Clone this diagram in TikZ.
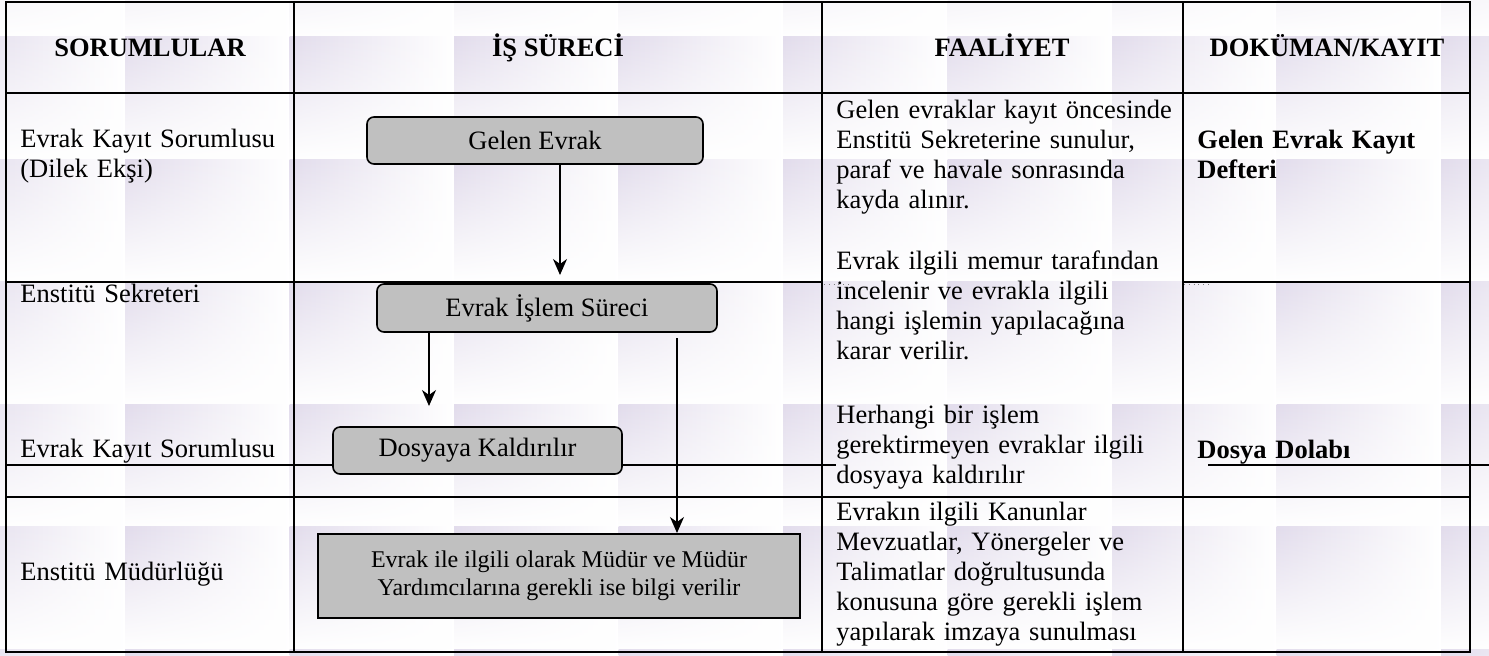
\documentclass[tikz,border=0pt]{standalone}
\usepackage{fontspec}
\setmainfont{Liberation Serif}
\usetikzlibrary{arrows.meta,fadings}
\definecolor{tilelav}{RGB}{226,220,236}
\definecolor{boxgray}{RGB}{192,192,192}
\newcommand\bodysize{\fontsize{13.25}{15}\selectfont}
\tikzfading[name=tilefade, top color=transparent!0, middle color=transparent!60, bottom color=transparent!100]
\begin{document}
\begin{tikzpicture}[x=0.5pt, y=-0.5pt, font=\bodysize,
    grid/.style={line width=1pt},
    txt/.style={anchor=base west, inner sep=0pt, align=left, text width=170pt},
    bold/.style={font=\bodysize\bfseries},
    head/.style={anchor=base, inner sep=0pt, bold},
    procbox/.style={draw, fill=boxgray, rounded corners=3.5pt, line width=0.8pt, inner sep=0pt},
    flow/.style={line width=0.75pt, -{Stealth[length=8pt,width=7pt,inset=2.5pt]}}]
  \useasboundingbox (0,0) rectangle (1489,655);
  \fill[white] (0,0) rectangle (1489,655);
  \foreach \i in {0,...,9}
    \foreach \j in {0,...,6}
      \shade[left color=tilelav, middle color=tilelav!70, right color=white, path fading=tilefade]
        ({-39.5+164.5*\i},{-85.5+122.5*\j}) rectangle ++(164.5,122.5);

  \draw[grid] (6,2) rectangle (1470,652);
  \foreach \x in {294,822,1183}
    \draw[grid] (\x,2) -- (\x,652);
  \draw[grid] (6,93) -- (1470,93);
  \draw[grid] (6,282) -- (822,282) (1183,282) -- (1470,282);
  \draw[grid] (6,497) -- (1470,497);
  \draw[line width=0.8pt] (6,465) -- (836,465) (1208,465) -- (1489,465);
  \draw[gray, dotted] (824,284) -- (850,284) (1184,284) -- (1210,284);

  \node[head] (hsor) at (150,56) {SORUMLULAR};
  \node[head] (his) at (558,56) {İŞ SÜRECİ};
  \node[head] (hfaal) at (1002,56) {FAALİYET};
  \node[head] (hdok) at (1327,56) {DOKÜMAN/KAYIT};

  \node[txt] (sor1) at (20,147) {Evrak Kayıt Sorumlusu\\(Dilek Ekşi)};
  \node[txt] (sor2) at (20,302) {Enstitü Sekreteri};
  \node[txt] (sor3) at (20,457) {Evrak Kayıt Sorumlusu};
  \node[txt] (sor4) at (20,580) {Enstitü Müdürlüğü};

  \node[txt] (faal1) at (836,118) {Gelen evraklar kayıt öncesinde\\Enstitü Sekreterine sunulur,\\paraf ve havale sonrasında\\kayda alınır.};
  \node[txt] (faal2) at (836,269) {Evrak ilgili memur tarafından\\incelenir ve evrakla ilgili\\hangi işlemin yapılacağına\\karar verilir.};
  \node[txt] (faal3) at (836,423) {Herhangi bir işlem\\gerektirmeyen evraklar ilgili\\dosyaya kaldırılır};
  \node[txt] (faal4) at (836,520) {Evrakın ilgili Kanunlar\\Mevzuatlar, Yönergeler ve\\Talimatlar doğrultusunda\\konusuna göre gerekli işlem\\yapılarak imzaya sunulması};

  \node[txt, bold] (dok1) at (1197,148) {Gelen Evrak Kayıt\\Defteri};
  \node[txt, bold] (dok2) at (1197,458) {Dosya Dolabı};

  \node[procbox, minimum width=168pt, minimum height=23.5pt] (gelen) at (535,140.5) {Gelen Evrak};
  \node[procbox, minimum width=170pt, minimum height=24pt] (islem) at (547,308) {Evrak İşlem Süreci};
  \node[procbox, minimum width=144.5pt, minimum height=23.5pt] (dosya) at (477.5,450.5) {Dosyaya Kaldırılır};
  \node[draw, fill=boxgray, line width=1pt, minimum width=241pt, minimum height=42pt, align=center,
        font=\fontsize{12}{14}\selectfont] (mudur) at (559,576)
        {Evrak ile ilgili olarak Müdür ve Müdür\\Yardımcılarına gerekli ise bilgi verilir};

  \coordinate (tipA) at (560,275);
  \coordinate (tipB) at (429,406);
  \coordinate (fromC) at (677,338);
  \draw[flow] (gelen.south -| tipA) -- (tipA);
  \draw[flow] (islem.south -| tipB) -- (tipB);
  \draw[flow] (fromC) -- (fromC |- mudur.north);
\end{tikzpicture}
\end{document}
